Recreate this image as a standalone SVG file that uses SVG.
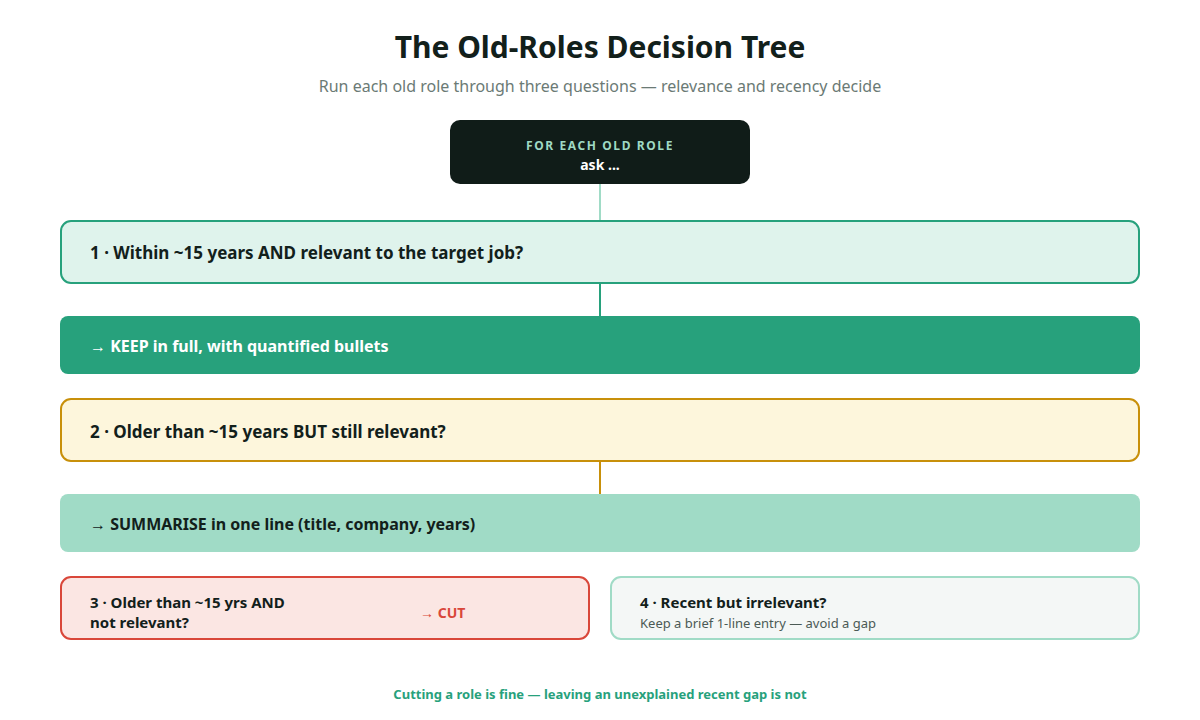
<svg xmlns="http://www.w3.org/2000/svg" width="1200" height="720" viewBox="0 0 1200 720">
<style>
text{font-family:"Noto Sans","Open Sans","Liberation Sans",sans-serif}
.b{font-weight:700}
.dark{fill:#12201b}
.q{font-size:17px;font-weight:700;fill:#12201b}
.a{font-size:16px;font-weight:700}
</style>
<rect width="1200" height="720" fill="#ffffff"/>
<g id="title">
<text x="600" y="58" text-anchor="middle" class="b dark" font-size="30">The Old-Roles Decision Tree</text>
<text x="600" y="92" text-anchor="middle" font-size="16" fill="#6b7a75">Run each old role through three questions — relevance and recency decide</text>
</g>
<g id="connectors" fill="none" stroke-width="2">
<line x1="600" y1="184" x2="600" y2="220" stroke="#a0dbc6"/>
<line x1="600" y1="284" x2="600" y2="316" stroke="#27a17c"/>
<line x1="600" y1="462" x2="600" y2="494" stroke="#c8900a"/>
</g>
<g id="start">
<rect x="450" y="120" width="300" height="64" rx="10" fill="#101c18"/>
<text x="600" y="150" text-anchor="middle" class="b" font-size="12" letter-spacing="1.6" fill="#9fd9c4">FOR EACH OLD ROLE</text>
<text x="600" y="170" text-anchor="middle" class="b" font-size="14" fill="#ffffff">ask ...</text>
</g>
<g id="q1">
<rect x="61" y="221" width="1078" height="62" rx="10" fill="#dff3ec" stroke="#27a17c" stroke-width="2"/>
<text x="90" y="259" class="q">1 · Within ~15 years AND relevant to the target job?</text>
</g>
<g id="keep">
<rect x="60" y="316" width="1080" height="58" rx="8" fill="#27a17c"/>
<text x="90" y="352" class="a" fill="#ffffff">→ KEEP in full, with quantified bullets</text>
</g>
<g id="q2">
<rect x="61" y="399" width="1078" height="62" rx="10" fill="#fdf6dc" stroke="#c8900a" stroke-width="2"/>
<text x="90" y="438" class="q">2 · Older than ~15 years BUT still relevant?</text>
</g>
<g id="summarise">
<rect x="60" y="494" width="1080" height="58" rx="8" fill="#a0dbc6"/>
<text x="90" y="530" class="a dark">→ SUMMARISE in one line (title, company, years)</text>
</g>
<g id="q3">
<rect x="61" y="577" width="528" height="62" rx="10" fill="#fbe6e3" stroke="#d9473a" stroke-width="2"/>
<text x="90" y="608" class="b dark" font-size="15">3 · Older than ~15 yrs AND</text>
<text x="90" y="628" class="b dark" font-size="15">not relevant?</text>
<text x="420" y="618" class="b" font-size="14" fill="#d9473a">→ CUT</text>
</g>
<g id="q4">
<rect x="611" y="577" width="528" height="62" rx="10" fill="#f4f7f6" stroke="#a0dbc6" stroke-width="2"/>
<text x="640" y="608" class="b dark" font-size="15">4 · Recent but irrelevant?</text>
<text x="640" y="628" font-size="13" fill="#4b5a55">Keep a brief 1-line entry — avoid a gap</text>
</g>
<g id="footer">
<text x="600" y="699" text-anchor="middle" class="b" font-size="13" fill="#27a17c">Cutting a role is fine — leaving an unexplained recent gap is not</text>
</g>
</svg>
